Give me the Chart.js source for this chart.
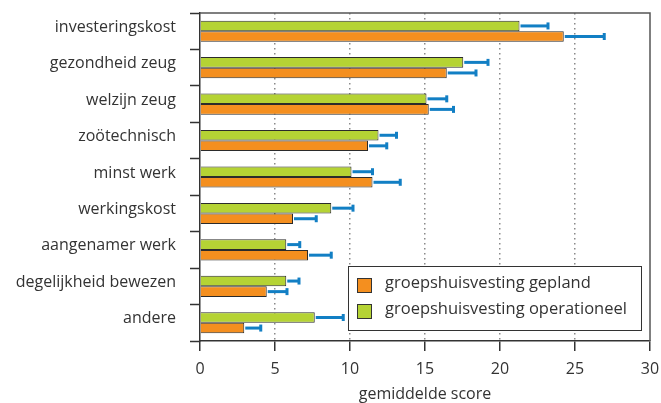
<!DOCTYPE html>
<html>
<head>
<meta charset="utf-8">
<script src="https://cdn.jsdelivr.net/npm/chart.js@4/dist/chart.umd.min.js"></script>
<style>
  html, body { margin: 0; padding: 0; background: #fff; }
  #wrap { width: 661px; height: 403px; }
</style>
</head>
<body>
<div id="wrap"><canvas id="chart" width="661" height="403"></canvas></div>
<script>
// categories and values
const categories = ['investeringskost', 'gezondheid zeug', 'welzijn zeug', 'zoötechnisch', 'minst werk',
  'werkingskost', 'aangenamer werk', 'degelijkheid bewezen', 'andere'];
const operationeel = [21.3, 17.55, 15.1, 11.9, 10.1, 8.75, 5.75, 5.75, 7.65];
const operationeelErr = [23.2, 19.2, 16.45, 13.1, 11.5, 10.2, 6.65, 6.6, 9.55];
const gepland = [24.25, 16.45, 15.25, 11.2, 11.5, 6.2, 7.2, 4.45, 2.95];
const geplandErr = [26.95, 18.4, 16.9, 12.45, 13.35, 7.75, 8.75, 5.8, 4.05];
const xTicks = [0, 5, 10, 15, 20, 25, 30];

const textColor = '#333';
const fontFamily = '"Open Sans", "Noto Sans", sans-serif';

// error whiskers drawn from each bar end to its upper value
const errorBars = {
  id: 'errorBars',
  afterDatasetsDraw(chart) {
    const ctx = chart.ctx;
    const xScale = chart.scales.x;
    chart.data.datasets.forEach((ds, i) => {
      const meta = chart.getDatasetMeta(i);
      meta.data.forEach((bar, j) => {
        const xEnd = xScale.getPixelForValue(ds.errHigh[j]);
        ctx.save();
        ctx.strokeStyle = '#127fc4';
        ctx.lineWidth = 3;
        ctx.beginPath();
        ctx.moveTo(bar.x + 1, bar.y);
        ctx.lineTo(xEnd, bar.y);
        ctx.stroke();
        ctx.beginPath();
        ctx.moveTo(xEnd, bar.y - 3.5);
        ctx.lineTo(xEnd, bar.y + 3.5);
        ctx.stroke();
        ctx.restore();
      });
    });
  }
};

// box around the plot area and the legend inside it
const frameAndLegend = {
  id: 'frameAndLegend',
  afterDraw(chart) {
    const ctx = chart.ctx;
    const a = chart.chartArea;
    ctx.save();
    ctx.strokeStyle = '#555';
    ctx.lineWidth = 1.5;
    ctx.beginPath();
    ctx.moveTo(a.left, a.top);
    ctx.lineTo(a.right, a.top);
    ctx.lineTo(a.right, a.bottom);
    ctx.stroke();

    // legend
    const bx = a.left + 148, by = a.bottom - 75, bw = 293, bh = 64;
    ctx.fillStyle = '#fff';
    ctx.fillRect(bx, by, bw, bh);
    ctx.strokeStyle = '#333';
    ctx.lineWidth = 1;
    ctx.strokeRect(bx + 0.5, by + 0.5, bw, bh);
    const items = [chart.data.datasets[1], chart.data.datasets[0]];
    ctx.font = '16.5px ' + fontFamily;
    ctx.textBaseline = 'middle';
    items.forEach((ds, k) => {
      const y = by + 19 + k * 26;
      ctx.fillStyle = ds.backgroundColor;
      ctx.fillRect(bx + 9, y - 7, 14, 14);
      ctx.strokeStyle = '#333';
      ctx.strokeRect(bx + 9.5, y - 6.5, 14, 14);
      ctx.fillStyle = textColor;
      ctx.fillText(ds.label, bx + 37, y - 2);
    });
    ctx.restore();
  }
};

new Chart(document.getElementById('chart'), {
  type: 'bar',
  data: {
    labels: categories,
    datasets: [
      {
        label: 'groepshuisvesting operationeel',
        data: operationeel,
        errHigh: operationeelErr,
        backgroundColor: '#b5d334',
        borderColor: '#2b2b2b',
        borderWidth: 1
      },
      {
        label: 'groepshuisvesting gepland',
        data: gepland,
        errHigh: geplandErr,
        backgroundColor: '#f48f1f',
        borderColor: '#2b2b2b',
        borderWidth: 1
      }
    ]
  },
  options: {
    indexAxis: 'y',
    responsive: false,
    animation: false,
    categoryPercentage: 0.58,
    barPercentage: 1,
    layout: { padding: { top: 13, right: 11, left: 0, bottom: 0 } },
    plugins: {
      legend: { display: false },
      tooltip: { enabled: false }
    },
    scales: {
      x: {
        min: 0,
        max: 30,
        afterBuildTicks(scale) {
          scale.ticks = xTicks.map(v => ({ value: v }));
        },
        afterFit(scale) {
          scale.height = 62;
          scale.paddingLeft = 0;
          scale.paddingRight = 0;
        },
        grid: {
          color: ctx => (ctx.tick && (ctx.tick.value === 0 || ctx.tick.value === 30)) ? 'rgba(0,0,0,0)' : '#8a8a8a',
          lineWidth: 1.5,
          tickColor: '#333',
          tickLength: 10,
          tickWidth: 1.5
        },
        border: { color: '#333', width: 1.5, dash: [1.5, 3.5] },
        ticks: {
          color: textColor,
          font: { family: fontFamily, size: 16 },
          padding: 9
        },
        title: {
          display: true,
          text: 'gemiddelde score',
          color: textColor,
          font: { family: fontFamily, size: 16 },
          padding: { top: 0, bottom: -1 }
        }
      },
      y: {
        afterFit(scale) {
          scale.width = 200;
          scale.paddingTop = 0;
          scale.paddingBottom = 0;
        },
        grid: {
          drawOnChartArea: false,
          tickColor: '#333',
          tickLength: 10,
          tickWidth: 1.5,
          offset: true
        },
        border: { color: '#333', width: 1.5 },
        ticks: {
          color: textColor,
          font: { family: fontFamily, size: 16 },
          padding: 14,
          labelOffset: -4
        }
      }
    }
  },
  plugins: [errorBars, frameAndLegend]
});
</script>
</body>
</html>
